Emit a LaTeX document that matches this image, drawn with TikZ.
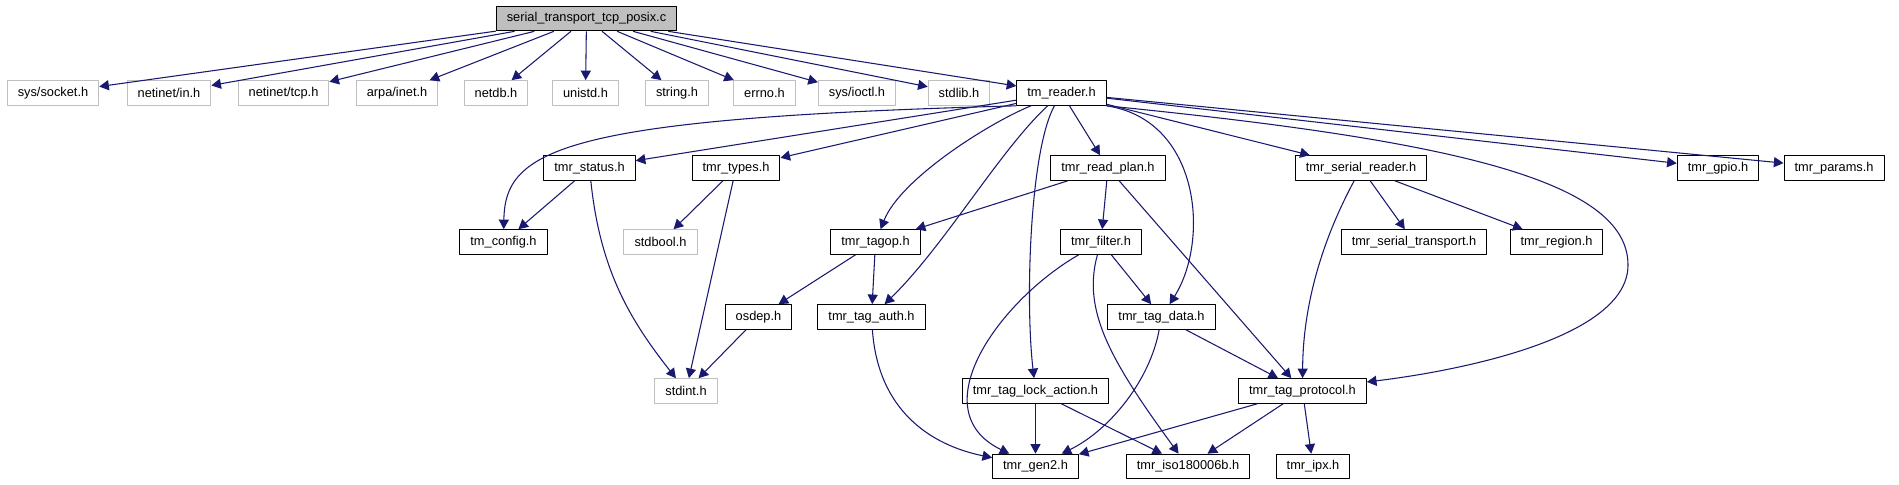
\documentclass[tikz,border=0pt]{standalone}
\usepackage{fontspec}
\setmainfont{Liberation Sans}
\usetikzlibrary{arrows.meta}
\definecolor{edgeblue}{HTML}{191970}
\definecolor{extgray}{HTML}{BFBFBF}
\tikzset{
  hdr/.style={draw=black, line width=0.75pt, minimum height=18.5pt, inner xsep=7.9pt, inner ysep=0pt, font=\fontsize{9.6}{11}\selectfont},
  ext/.style={hdr, draw=extgray},
  dep/.style={->, edgeblue, line width=0.8pt},
}
\begin{document}
\begin{tikzpicture}[>={Triangle[length=7.2pt,width=7.6pt]}, x=0.75pt, y=-0.75pt, line join=round]
\useasboundingbox (0,0) rectangle (1899,485);
% the source file
\node[hdr, fill=extgray] (root) at (586.5,18.5) {serial\_transport\_tcp\_posix.c};
% direct includes
\node[ext] (socket) at (53,93) {sys/socket.h};
\node[ext] (netin) at (169,93) {netinet/in.h};
\node[ext] (nettcp) at (283.5,93) {netinet/tcp.h};
\node[ext] (arpainet) at (397,93) {arpa/inet.h};
\node[ext] (netdb) at (496,93) {netdb.h};
\node[ext] (unistd) at (585.5,93) {unistd.h};
\node[ext] (string) at (677,93) {string.h};
\node[ext] (errno) at (764.5,93) {errno.h};
\node[ext] (ioctl) at (857,93) {sys/ioctl.h};
\node[ext] (stdlib) at (959,93) {stdlib.h};
\node[hdr] (reader) at (1061.5,93) {tm\_reader.h};
% third row
\node[hdr] (status) at (589.5,168) {tmr\_status.h};
\node[hdr] (types) at (736,168) {tmr\_types.h};
\node[hdr] (readplan) at (1108,168) {tmr\_read\_plan.h};
\node[hdr] (serreader) at (1361,168) {tmr\_serial\_reader.h};
\node[hdr] (gpio) at (1718,168) {tmr\_gpio.h};
\node[hdr] (params) at (1834,168) {tmr\_params.h};
% fourth row
\node[hdr] (config) at (503.5,242) {tm\_config.h};
\node[ext] (stdbool) at (660.5,242) {stdbool.h};
\node[hdr] (tagop) at (875.5,242) {tmr\_tagop.h};
\node[hdr] (filter) at (1101,242) {tmr\_filter.h};
\node[hdr] (sertrans) at (1414,242) {tmr\_serial\_transport.h};
\node[hdr] (region) at (1556.5,242) {tmr\_region.h};
% fifth row
\node[hdr] (osdep) at (758.5,317) {osdep.h};
\node[hdr] (tagauth) at (871.5,317) {tmr\_tag\_auth.h};
\node[hdr] (tagdata) at (1161.5,317) {tmr\_tag\_data.h};
% sixth row
\node[ext] (stdint) at (686,391) {stdint.h};
\node[hdr] (lockact) at (1035.5,391) {tmr\_tag\_lock\_action.h};
\node[hdr] (tagproto) at (1302.5,391) {tmr\_tag\_protocol.h};
% bottom row
\node[hdr] (gentwo) at (1035.5,466.5) {tmr\_gen2.h};
\node[hdr] (iso) at (1188,466.5) {tmr\_iso180006b.h};
\node[hdr] (ipx) at (1313,466.5) {tmr\_ipx.h};

% edges
\foreach \t in {socket,netin,nettcp,arpainet,netdb,unistd,string,errno,ioctl,stdlib,reader}
  \draw[dep] (root) -- (\t);
\foreach \t in {status,types,readplan,serreader,gpio,params}
  \draw[dep] (reader) -- (\t);
\draw[dep] (reader.south west) .. controls (560,118) and (505,150) .. (config);
\draw[dep] (reader) .. controls (985,125) and (900,180) .. (tagop);
\draw[dep] (reader) .. controls (1000,150) and (945,245) .. (tagauth);
\draw[dep] (reader) .. controls (1030,150) and (1025,300) .. (lockact);
\draw[dep] (reader.south east) .. controls (1200,120) and (1210,240) .. (tagdata);
\draw[dep] (reader.south east) .. controls (1450,140) and (1628,180) .. (1628,265)
  .. controls (1628,340) and (1450,372) .. (tagproto.8);
\draw[dep] (status) -- (config);
\draw[dep] (status) .. controls (600,270) and (630,320) .. (stdint);
\draw[dep] (types) -- (stdbool);
\draw[dep] (types) -- (stdint);
\foreach \t in {tagop,filter,tagproto}
  \draw[dep] (readplan) -- (\t);
\draw[dep] (serreader) -- (sertrans);
\draw[dep] (serreader) -- (region);
\draw[dep] (serreader) .. controls (1325,235) and (1303,300) .. (tagproto);
\draw[dep] (tagop) -- (osdep);
\draw[dep] (tagop) -- (tagauth);
\draw[dep] (osdep) -- (stdint);
\draw[dep] (filter) -- (tagdata);
\draw[dep] (filter) .. controls (1000,300) and (920,410) .. (gentwo);
\draw[dep] (filter) .. controls (1082,310) and (1110,360) .. (iso);
\draw[dep] (tagauth) .. controls (878,410) and (930,445) .. (gentwo);
\draw[dep] (tagdata) .. controls (1150,380) and (1110,430) .. (gentwo);
\draw[dep] (tagdata) -- (tagproto);
\draw[dep] (lockact) -- (gentwo);
\draw[dep] (lockact) -- (iso);
\foreach \t in {gentwo,iso,ipx}
  \draw[dep] (tagproto) -- (\t);
\end{tikzpicture}
\end{document}
